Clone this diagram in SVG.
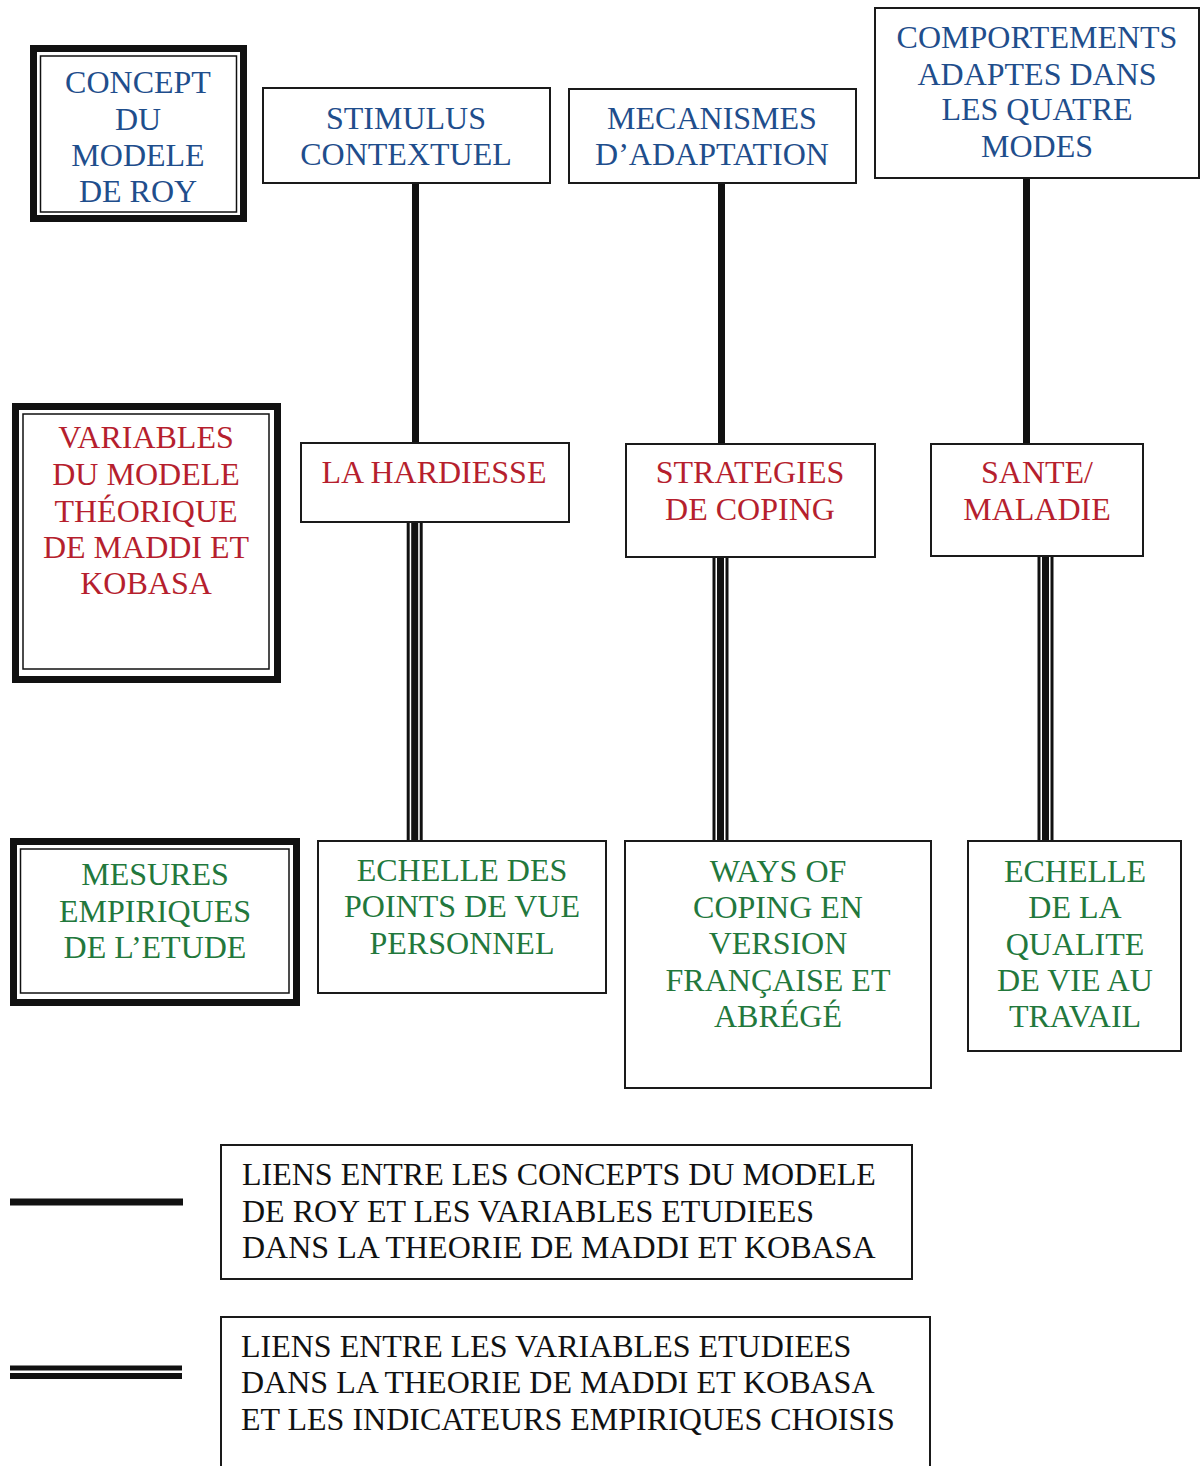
<svg xmlns="http://www.w3.org/2000/svg" width="1200" height="1466" viewBox="0 0 1200 1466">
<style>
text{font-family:"Liberation Serif","Times New Roman",serif;font-size:32px;text-anchor:middle}
.b{fill:#1f4e8c}.r{fill:#b61f2e}.g{fill:#22783c}.k{fill:#111;text-anchor:start;font-size:32px}
.box{fill:#fff;stroke:#1a1a1a;stroke-width:2}
.thick{fill:none;stroke:#111;stroke-width:7}
.thin{fill:none;stroke:#111;stroke-width:1.5}
.single{stroke:#111;stroke-width:7}
.dbl{stroke:#111;stroke-width:16}
.gap{stroke:#fff;stroke-width:1.5}
</style>
<rect width="1200" height="1466" fill="#fff"/>
<g id="connectors">
<line class="single" x1="415.5" y1="183" x2="415.5" y2="443"/>
<line class="single" x1="721.5" y1="183" x2="721.5" y2="444"/>
<line class="single" x1="1026.5" y1="178" x2="1026.5" y2="444"/>
<g>
<line class="dbl" x1="414.7" y1="522" x2="414.7" y2="841"/>
<line class="gap" x1="410.45" y1="522" x2="410.45" y2="841"/>
<line class="gap" x1="418.95" y1="522" x2="418.95" y2="841"/>
</g>
<g>
<line class="dbl" x1="720.5" y1="557" x2="720.5" y2="841"/>
<line class="gap" x1="716.25" y1="557" x2="716.25" y2="841"/>
<line class="gap" x1="724.75" y1="557" x2="724.75" y2="841"/>
</g>
<g>
<line class="dbl" x1="1045.5" y1="556" x2="1045.5" y2="841"/>
<line class="gap" x1="1041.25" y1="556" x2="1041.25" y2="841"/>
<line class="gap" x1="1049.75" y1="556" x2="1049.75" y2="841"/>
</g>
</g>
<g id="concept-roy">
<rect class="thick" x="33.5" y="48.5" width="210" height="170" fill="#fff"/>
<rect class="thin" x="40.5" y="56" width="196" height="156"/>
<text class="b" x="138" y="93">CONCEPT</text>
<text class="b" x="138" y="130">DU</text>
<text class="b" x="138" y="166">MODELE</text>
<text class="b" x="138" y="202">DE ROY</text>
</g>
<g id="stimulus">
<rect class="box" x="263" y="88" width="287" height="95"/>
<text class="b" x="406" y="129">STIMULUS</text>
<text class="b" x="406" y="165">CONTEXTUEL</text>
</g>
<g id="mecanismes">
<rect class="box" x="569" y="89" width="287" height="94"/>
<text class="b" x="712" y="129">MECANISMES</text>
<text class="b" x="712" y="165">D’ADAPTATION</text>
</g>
<g id="comportements">
<rect class="box" x="875" y="8" width="324" height="170"/>
<text class="b" x="1037" y="48">COMPORTEMENTS</text>
<text class="b" x="1037" y="85">ADAPTES DANS</text>
<text class="b" x="1037" y="120">LES QUATRE</text>
<text class="b" x="1037" y="157">MODES</text>
</g>
<g id="variables">
<rect class="thick" x="15.5" y="406.5" width="262" height="273" fill="#fff"/>
<rect class="thin" x="23" y="414" width="246" height="255"/>
<text class="r" x="146" y="448">VARIABLES</text>
<text class="r" x="146" y="485">DU MODELE</text>
<text class="r" x="146" y="522">THÉORIQUE</text>
<text class="r" x="146" y="558">DE MADDI ET</text>
<text class="r" x="146" y="594">KOBASA</text>
</g>
<g id="hardiesse">
<rect class="box" x="301" y="443" width="268" height="79"/>
<text class="r" x="434" y="483">LA HARDIESSE</text>
</g>
<g id="strategies">
<rect class="box" x="626" y="444" width="249" height="113"/>
<text class="r" x="750" y="483">STRATEGIES</text>
<text class="r" x="750" y="520">DE COPING</text>
</g>
<g id="sante">
<rect class="box" x="931" y="444" width="212" height="112"/>
<text class="r" x="1037" y="483">SANTE/</text>
<text class="r" x="1037" y="520">MALADIE</text>
</g>
<g id="mesures">
<rect class="thick" x="13.5" y="841.5" width="283" height="161" fill="#fff"/>
<rect class="thin" x="20.5" y="849" width="268.5" height="144"/>
<text class="g" x="155" y="885">MESURES</text>
<text class="g" x="155" y="922">EMPIRIQUES</text>
<text class="g" x="155" y="958">DE L’ETUDE</text>
</g>
<g id="echelle-points">
<rect class="box" x="318" y="841" width="288" height="152"/>
<text class="g" x="462" y="881">ECHELLE DES</text>
<text class="g" x="462" y="917">POINTS DE VUE</text>
<text class="g" x="462" y="954">PERSONNEL</text>
</g>
<g id="ways-of-coping">
<rect class="box" x="625" y="841" width="306" height="247"/>
<text class="g" x="778" y="882">WAYS OF</text>
<text class="g" x="778" y="918">COPING EN</text>
<text class="g" x="778" y="954">VERSION</text>
<text class="g" x="778" y="991">FRANÇAISE ET</text>
<text class="g" x="778" y="1027">ABRÉGÉ</text>
</g>
<g id="echelle-qualite">
<rect class="box" x="968" y="841" width="213" height="210"/>
<text class="g" x="1075" y="882">ECHELLE</text>
<text class="g" x="1075" y="918">DE LA</text>
<text class="g" x="1075" y="955">QUALITE</text>
<text class="g" x="1075" y="991">DE VIE AU</text>
<text class="g" x="1075" y="1027">TRAVAIL</text>
</g>
<g id="legend-single">
<line class="single" x1="10" y1="1202" x2="183" y2="1202"/>
<rect class="box" x="221" y="1145" width="691" height="134"/>
<text class="k" x="242" y="1185">LIENS ENTRE LES CONCEPTS DU MODELE</text>
<text class="k" x="242" y="1222">DE ROY ET LES VARIABLES ETUDIEES</text>
<text class="k" x="242" y="1258">DANS LA THEORIE DE MADDI ET KOBASA</text>
</g>
<g id="legend-double">
<line stroke="#111" stroke-width="5" x1="10" y1="1368" x2="182" y2="1368"/>
<line stroke="#111" stroke-width="6" x1="10" y1="1376" x2="182" y2="1376"/>
<rect class="box" x="221" y="1317" width="709" height="160"/>
<text class="k" x="241" y="1357">LIENS ENTRE LES VARIABLES ETUDIEES</text>
<text class="k" x="241" y="1393">DANS LA THEORIE DE MADDI ET KOBASA</text>
<text class="k" x="241" y="1430">ET LES INDICATEURS EMPIRIQUES CHOISIS</text>
</g>
</svg>
